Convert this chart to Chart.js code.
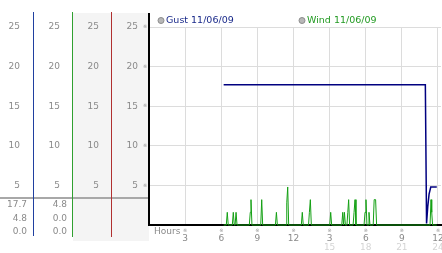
<!DOCTYPE html>
<html>
<head>
<meta charset="utf-8">
<script src="https://cdn.jsdelivr.net/npm/chart.js@4.4.0/dist/chart.umd.min.js"></script>
<style>
  html, body { margin: 0; padding: 0; background: #fff; }
  #chart { display: block; }
</style>
</head>
<body>
<canvas id="chart" width="442" height="253"></canvas>
<script>
// Data
const gustLabel = 'Gust 11/06/09';
const windLabel = 'Wind 11/06/09';

const gustHours  = [6.2, 22.95, 23.05, 23.15, 23.26, 23.4, 23.9];
const gustValues = [17.7, 17.7, 0.2, 2.3, 3.9, 4.8, 4.8];

const windHours = [6.2, 6.42, 6.5, 6.58, 6.92, 7.0, 7.08, 7.15, 7.23, 7.31,
    8.33, 8.41, 8.47, 8.55, 9.28, 9.36, 9.44, 10.5, 10.58, 10.66,
    11.38, 11.44, 11.52, 11.6, 12.65, 12.73, 12.81, 13.25, 13.32, 13.4, 13.48,
    15.01, 15.09, 15.17, 16.01, 16.09, 16.16, 16.23, 16.31,
    16.44, 16.51, 16.58, 16.66, 16.95, 17.03, 17.11, 17.19,
    17.86, 17.94, 18.02, 18.1, 18.2, 18.27, 18.35, 18.62, 18.7, 18.82, 18.9,
    23.34, 23.42, 23.48, 23.55, 23.9];
const windValues = [0, 0, 1.6, 0, 0, 1.6, 0, 0, 1.6, 0,
    0, 1.6, 3.2, 0, 0, 3.2, 0, 0, 1.6, 0,
    0, 2.8, 4.8, 0, 0, 1.6, 0, 0, 1.6, 3.2, 0,
    0, 1.6, 0, 0, 1.6, 0, 1.6, 0,
    0, 1.6, 3.2, 0, 0, 1.6, 3.2, 0,
    0, 1.6, 3.2, 0, 0, 1.6, 0, 0, 3.2, 3.2, 0,
    0, 3.2, 1.6, 0, 0];

const yTicks = [0, 5, 10, 15, 20, 25];
const hourTicks = [0, 3, 6, 9, 12, 15, 18, 21, 24];
const hourLabels = ['', '3', '6', '9', '12', '3', '6', '9', '12'];
const lateHours = [15, 18, 21, 24];
const lateLabels = ['15', '18', '21', '24'];

// max / now / min rows of the left table
const gustStats = ['17.7', '4.8', '0.0'];
const windStats = ['4.8', '0.0', '0.0'];

const tickFont = { family: 'DejaVu Sans', size: 9 };
const tickColor = '#8a8a8a';

function toPoints(xs, ys) {
    return xs.map((x, i) => ({ x: x, y: ys[i] }));
}

// one narrow column axis of the left panel
function columnAxis(width, pad, weight) {
    return {
        position: 'left',
        weight: weight,
        min: 0,
        max: 25,
        afterBuildTicks: s => { s.ticks = yTicks.map(v => ({ value: v })); },
        afterFit: s => { s.width = width; },
        grid: { display: false, drawTicks: false },
        border: { display: false },
        ticks: {
            padding: pad,
            autoSkip: false,
            color: tickColor,
            font: tickFont,
            callback: v => v === 0 ? '' : v
        }
    };
}

const panelPlugin = {
    id: 'panel',
    beforeDraw(chart) {
        const ctx = chart.ctx;
        const ca = chart.chartArea;
        const left = chart.scales.colWind.right + 1;
        ctx.save();
        ctx.fillStyle = '#f4f4f4';
        ctx.fillRect(left, 13, ca.left - left, 228);
        ctx.restore();
    },
    afterDraw(chart) {
        const ctx = chart.ctx;
        const ca = chart.chartArea;
        const xs = chart.scales.x;
        const ys = chart.scales.y;
        ctx.save();

        // separator above the table
        ctx.fillStyle = '#a8a8a8';
        ctx.fillRect(0, 197, ca.left - 1, 2);

        // coloured column lines
        const cols = [['colGust', '#2040a0', 236], ['colWind', '#30a030', 237], ['colMin', '#b03030', 237]];
        cols.forEach(c => {
            const s = chart.scales[c[0]];
            const x = Math.round(s.right - 0.5) + 0.5;
            ctx.strokeStyle = c[1];
            ctx.lineWidth = 1;
            ctx.beginPath();
            ctx.moveTo(x, 12);
            ctx.lineTo(x, c[2]);
            ctx.stroke();
        });
        // main axis reaches above the plot
        ctx.fillStyle = '#000';
        ctx.fillRect(ca.left - 1, 13, 2, ca.top - 13);

        // table values
        ctx.font = '9px "DejaVu Sans"';
        ctx.fillStyle = tickColor;
        ctx.textAlign = 'right';
        ctx.textBaseline = 'middle';
        const rowY = [205, 218.5, 232];
        const gx = chart.scales.colGust.right - 6;
        const wx = chart.scales.colWind.right - 5;
        rowY.forEach((y, i) => {
            ctx.fillText(gustStats[i], gx, y);
            ctx.fillText(windStats[i], wx, y);
        });

        // little tick marks
        ctx.font = '5px "DejaVu Sans"';
        ctx.fillStyle = '#999';
        ctx.textAlign = 'center';
        yTicks.slice(1).forEach(v => ctx.fillText('※', ca.left - 4, ys.getPixelForValue(v)));
        hourTicks.slice(1).forEach(v => ctx.fillText('※', xs.getPixelForValue(v), ca.bottom + 6));

        // axis title and second row of hours
        ctx.font = '9px "DejaVu Sans"';
        ctx.fillStyle = tickColor;
        ctx.textAlign = 'left';
        ctx.fillText('Hours', ca.left + 5, 232);
        ctx.fillStyle = '#d4d4d4';
        ctx.textAlign = 'center';
        lateHours.forEach((h, i) => ctx.fillText(lateLabels[i], xs.getPixelForValue(h), 248));

        // legend
        const items = [[chart.data.datasets[0], ca.left + 12, '#1a2a8a'], [chart.data.datasets[1], ca.left + 153, '#229a22']];
        ctx.font = '9.5px "DejaVu Sans"';
        ctx.textAlign = 'left';
        items.forEach(it => {
            ctx.beginPath();
            ctx.arc(it[1], 20.5, 3, 0, Math.PI * 2);
            ctx.fillStyle = '#b8b8b8';
            ctx.fill();
            ctx.strokeStyle = '#8c8c8c';
            ctx.lineWidth = 1;
            ctx.stroke();
            ctx.fillStyle = it[2];
            ctx.fillText(it[0].label, it[1] + 5, 20.5);
        });
        ctx.restore();
    }
};

new Chart(document.getElementById('chart'), {
    type: 'line',
    data: {
        datasets: [{
            label: gustLabel,
            data: toPoints(gustHours, gustValues),
            borderColor: '#000080',
            borderWidth: 1.5,
            pointRadius: 0,
            tension: 0,
            clip: false
        }, {
            label: windLabel,
            data: toPoints(windHours, windValues),
            borderColor: '#14a014',
            borderWidth: 1,
            pointRadius: 0,
            tension: 0,
            clip: false
        }]
    },
    options: {
        responsive: false,
        animation: false,
        layout: { padding: { top: 27, right: 1, left: 0, bottom: 0 } },
        plugins: {
            legend: { display: false },
            tooltip: { enabled: false }
        },
        scales: {
            x: {
                type: 'linear',
                min: 0,
                max: 24.25,
                afterBuildTicks: s => { s.ticks = hourTicks.map(v => ({ value: v })); },
                afterFit: s => { s.height = 28; s.paddingLeft = 0; s.paddingRight = 0; },
                grid: { color: '#dcdcdc', drawTicks: false },
                border: { color: '#000', width: 2 },
                ticks: {
                    padding: 8,
                    autoSkip: false,
                    maxRotation: 0,
                    color: tickColor,
                    font: tickFont,
                    callback: (v, i) => hourLabels[i]
                }
            },
            colGust: columnAxis(33, 13, 3),
            colWind: columnAxis(39, 12, 2),
            colMin: columnAxis(39, 12, 1),
            y: {
                position: 'left',
                weight: 0,
                min: 0,
                max: 25,
                afterBuildTicks: s => { s.ticks = yTicks.map(v => ({ value: v })); },
                afterFit: s => { s.width = 38; },
                grid: { color: '#dcdcdc', drawTicks: false },
                border: { color: '#000', width: 2 },
                ticks: {
                    padding: 11,
                    autoSkip: false,
                    color: tickColor,
                    font: tickFont,
                    callback: v => v === 0 ? '' : v
                }
            }
        }
    },
    plugins: [panelPlugin]
});
</script>
</body>
</html>
